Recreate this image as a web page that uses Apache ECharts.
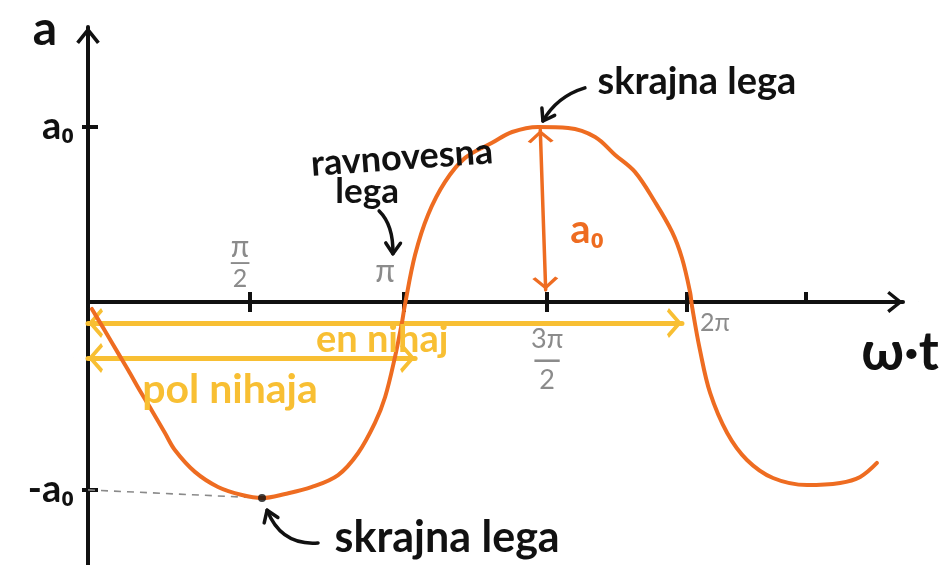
<!DOCTYPE html>
<html>
<head>
<meta charset="utf-8">
<script src="https://cdn.jsdelivr.net/npm/echarts@6/dist/echarts.min.js"></script>
<style>
  html, body { margin: 0; padding: 0; background: #ffffff; }
  #chart { width: 952px; height: 565px; }
</style>
</head>
<body>
<div id="chart"></div>
<script>
// Sketch of one oscillation: phase ωt in units of π, displacement in units of a₀.
const curveX = [0.013, 0.057, 0.100, 0.134, 0.174, 0.214, 0.257, 0.290, 0.357, 0.434, 0.514,
  0.581, 0.658, 0.748, 0.835, 0.902, 0.958, 0.992, 1.025, 1.048, 1.058,
  1.092, 1.135, 1.192, 1.259, 1.349, 1.416, 1.503, 1.603, 1.693, 1.760,
  1.826, 1.893, 1.950, 1.983, 2.010, 2.017, 2.043, 2.077, 2.134, 2.200,
  2.287, 2.401, 2.511, 2.578, 2.634];
const curveY = [-0.040, -0.166, -0.291, -0.389, -0.509, -0.623, -0.749, -0.846, -0.971, -1.057, -1.103,
  -1.120, -1.097, -1.057, -0.989, -0.863, -0.691, -0.543, -0.314, -0.120, -0.017,
  0.269, 0.497, 0.686, 0.823, 0.909, 0.971, 1.000, 0.994, 0.943, 0.840,
  0.743, 0.571, 0.400, 0.251, 0.057, -0.029, -0.274, -0.520, -0.749, -0.903,
  -1.006, -1.046, -1.034, -1.000, -0.920];

// Hand-placed phase ticks and their labels
const xTickValues = [0.541, 1.055, 1.533, 2.0, 2.397];
const xTickLabels = ['π/2', 'π', '3π/2', '2π', ''];
const yTickValues = [1, -1.074];
const yTickLabels = ['a₀', '-a₀'];

// Annotated spans and guides (same units as the axes)
const fullSwing = [[0, -0.12], [1.983, -0.12]];        // en nihaj
const halfSwing = [[0, -0.32], [1.092, -0.32]];        // pol nihaja
const amplitudeSpan = [[1.51, 0.983], [1.528, 0.069]]; // a₀
const lowGuide = [[0, -1.074], [0.581, -1.12]];
const lowExtreme = [0.581, -1.12];

const COL_CURVE = '#EE6C21';
const COL_SPAN = '#F8BF33';
const COL_INK = '#111111';
const COL_TICKTXT = '#6e6e6e';
const HAND = 'Lato, "DejaVu Sans", sans-serif';

// open chevron, apex at the centre of its box so it sits on a line end
const CHEVRON = 'path://M10,0 L20,12.5 L17.6,14.4 L10,4.8 L2.4,14.4 L0,12.5 Z M9.9,-14.4 L10.1,-14.4 L10,-14.3 Z';

const X_MIN = 0, X_MAX = 2.721, Y_MIN = -1.503, Y_MAX = 1.571;

function labelIndex(values, v) {
  let best = 0;
  values.forEach((t, i) => { if (Math.abs(t - v) < Math.abs(values[best] - v)) best = i; });
  return best;
}

// stacked fraction / plain label rich text per tick, and where it sits beside the axis
function tickText(i) {
  const t = xTickLabels[i];
  if (t === 'π/2') return '{pa|π}\n{pl|—}\n{pb|2}';
  if (t === 'π') return '{pi|π}';
  if (t === '3π/2') return '{ta|3π}\n{tl|—}\n{tb|2}';
  if (t === '2π') return '{tw|2π}';
  return '';
}
function tickSide(i) { return i < 2 ? 'top' : 'bottom'; }
const tickGap = [12, 14, 24, 8, 8];
const tickBase = { color: COL_TICKTXT, fontFamily: HAND };
const tickRich = {
  pa: Object.assign({ fontSize: 30, lineHeight: 24, padding: [0, 20, 0, 0] }, tickBase),
  pl: Object.assign({ fontSize: 28, lineHeight: 9, padding: [0, 20, 0, 0] }, tickBase),
  pb: Object.assign({ fontSize: 25, lineHeight: 22, padding: [0, 20, 0, 0] }, tickBase),
  pi: Object.assign({ fontSize: 32, padding: [0, 38, 0, 0] }, tickBase),
  ta: Object.assign({ fontSize: 27, lineHeight: 27 }, tickBase),
  tl: Object.assign({ fontSize: 38, lineHeight: 14 }, tickBase),
  tb: Object.assign({ fontSize: 27, lineHeight: 27 }, tickBase),
  tw: Object.assign({ fontSize: 25, padding: [0, 0, 0, 56] }, tickBase)
};

const chart = echarts.init(document.getElementById('chart'), null, { renderer: 'canvas' });

const axisInk = { show: true, onZero: true, lineStyle: { color: COL_INK, width: 4, cap: 'round' } };
const hiddenLine = { show: true, onZero: true, lineStyle: { color: 'rgba(0,0,0,0)', width: 0 } };

const option = {
  animation: false,
  backgroundColor: '#ffffff',
  grid: { left: 88, right: 49, top: 27, bottom: 0, containLabel: false, outerBoundsMode: 'none' },
  xAxis: [
    {
      type: 'value', position: 'bottom', min: X_MIN, max: X_MAX,
      axisLine: Object.assign({}, axisInk, { symbol: ['none', CHEVRON], symbolSize: [22, 32] }),
      splitLine: { show: false },
      axisTick: { show: true, length: 10, lineStyle: { color: COL_INK, width: 4 },
        customValues: xTickValues.slice(0, 4) },
      axisLabel: { show: false }
    },
    {
      type: 'value', position: 'top', min: X_MIN, max: X_MAX,
      axisLine: hiddenLine,
      splitLine: { show: false },
      axisTick: { show: true, length: 10, lineStyle: { color: COL_INK, width: 4 },
        customValues: xTickValues },
      axisLabel: { show: false }
    }
  ],
  yAxis: [
    {
      type: 'value', position: 'left', min: Y_MIN, max: Y_MAX,
      axisLine: Object.assign({}, axisInk, { symbol: ['none', CHEVRON], symbolSize: [24, 34] }),
      splitLine: { show: false },
      axisTick: { show: true, length: 6, lineStyle: { color: COL_INK, width: 4 }, customValues: yTickValues },
      axisLabel: {
        show: true, margin: 14, customValues: yTickValues,
        formatter: v => yTickLabels[labelIndex(yTickValues, v)],
        color: COL_INK, fontSize: 38, fontWeight: 'bold', fontFamily: HAND
      }
    },
    {
      type: 'value', position: 'right', min: Y_MIN, max: Y_MAX,
      axisLine: hiddenLine,
      splitLine: { show: false },
      axisTick: { show: true, length: 10, lineStyle: { color: COL_INK, width: 4 }, customValues: yTickValues },
      axisLabel: { show: false }
    }
  ],
  series: [
    {
      // yellow spans: one full swing and half a swing
      type: 'line', data: [], z: 2, silent: true,
      markLine: {
        silent: true, animation: false,
        symbol: [CHEVRON, CHEVRON], symbolSize: 30,
        label: { show: false },
        lineStyle: { color: COL_SPAN, width: 5, type: 'solid', cap: 'round' },
        data: [
          [{ coord: fullSwing[0] }, { coord: fullSwing[1] }],
          [{ coord: halfSwing[0] }, { coord: halfSwing[1] }]
        ]
      }
    },
    {
      // dashed guide from -a₀ to the lower extreme
      type: 'line', data: [], z: 2, silent: true,
      markLine: {
        silent: true, animation: false, symbol: ['none', 'none'],
        label: { show: false },
        lineStyle: { color: '#8a8a8a', width: 1.6, type: [7, 6] },
        data: [[{ coord: lowGuide[0] }, { coord: lowGuide[1] }]]
      }
    },
    {
      // phase tick labels, written beside the axis line
      type: 'scatter', z: 3, silent: true, symbolSize: 0,
      data: xTickValues.map((v, i) => ({
        value: [v, 0],
        label: {
          show: true, position: tickSide(i), distance: tickGap[i],
          formatter: () => tickText(i), rich: tickRich
        }
      }))
    },
    {
      name: 'a', type: 'line', z: 5, silent: true,
      data: curveX.map((x, i) => [x, curveY[i]]),
      smooth: 0.35, showSymbol: false,
      lineStyle: { color: COL_CURVE, width: 4, cap: 'round', join: 'round' }
    },
    {
      // amplitude arrow
      type: 'line', data: [], z: 6, silent: true,
      markLine: {
        silent: true, animation: false,
        symbol: [CHEVRON, CHEVRON], symbolSize: 26,
        label: { show: false },
        lineStyle: { color: COL_CURVE, width: 3.5, type: 'solid', cap: 'round' },
        data: [[{ coord: amplitudeSpan[0] }, { coord: amplitudeSpan[1] }]]
      }
    },
    {
      type: 'scatter', z: 7, silent: true,
      data: [lowExtreme], symbolSize: 8,
      itemStyle: { color: COL_INK }
    }
  ]
};

chart.setOption(option);

// ---- handwritten notes and pointer arrows, anchored in axis units ----
const notes = [
  { text: 'a', at: [-0.144, 1.556], size: 48, color: COL_INK },
  { text: 'ω·t', at: [2.711, -0.29], size: 54, color: COL_INK },
  { text: 'skrajna lega', at: [2.033, 1.257], size: 38, color: COL_INK },
  { text: 'ravnovesna', at: [1.048, 0.823], size: 36, color: COL_INK, rotate: 0.07 },
  { text: 'lega', at: [0.932, 0.629], size: 35, color: COL_INK },
  { text: 'skrajna lega', at: [1.199, -1.349], size: 43, color: COL_INK },
  { text: 'en nihaj', at: [0.982, -0.217], size: 38, color: COL_SPAN },
  { text: 'pol nihaja', at: [0.474, -0.503], size: 41, color: COL_SPAN },
  { text: 'a₀', at: [1.666, 0.411], size: 40, color: COL_CURVE }
];
const pointers = [
  { from: [1.659, 1.223], ctrl: [1.566, 1.175], to: [1.519, 1.034] },
  { from: [0.972, 0.52], ctrl: [1.02, 0.44], to: [1.018, 0.275] },
  { from: [0.768, -1.377], ctrl: [0.645, -1.394], to: [0.598, -1.19] }
];

function toPx(p) { return chart.convertToPixel({ xAxisIndex: 0, yAxisIndex: 0 }, p); }

const graphics = [];
notes.forEach(n => {
  const p = toPx(n.at);
  graphics.push({
    type: 'text', x: p[0], y: p[1], rotation: n.rotate || 0, silent: true, z: 20,
    style: {
      text: n.text, fill: n.color, font: 'normal bold ' + n.size + 'px ' + HAND,
      align: 'center', verticalAlign: 'middle'
    }
  });
});
pointers.forEach(a => {
  const s = toPx(a.from), c = toPx(a.ctrl), e = toPx(a.to);
  graphics.push({
    type: 'bezierCurve', silent: true, z: 20,
    shape: { x1: s[0], y1: s[1], cpx1: c[0], cpy1: c[1], x2: e[0], y2: e[1] },
    style: { stroke: COL_INK, lineWidth: 3.5, fill: null, lineCap: 'round' }
  });
  const ang = Math.atan2(e[1] - c[1], e[0] - c[0]);
  const L = 13, spread = 0.6;
  graphics.push({
    type: 'polyline', silent: true, z: 20,
    shape: { points: [
      [e[0] - L * Math.cos(ang - spread), e[1] - L * Math.sin(ang - spread)],
      [e[0], e[1]],
      [e[0] - L * Math.cos(ang + spread), e[1] - L * Math.sin(ang + spread)]
    ] },
    style: { stroke: COL_INK, lineWidth: 3.5, fill: null, lineCap: 'round', lineJoin: 'round' }
  });
});
chart.setOption({ graphic: graphics });
</script>
</body>
</html>
